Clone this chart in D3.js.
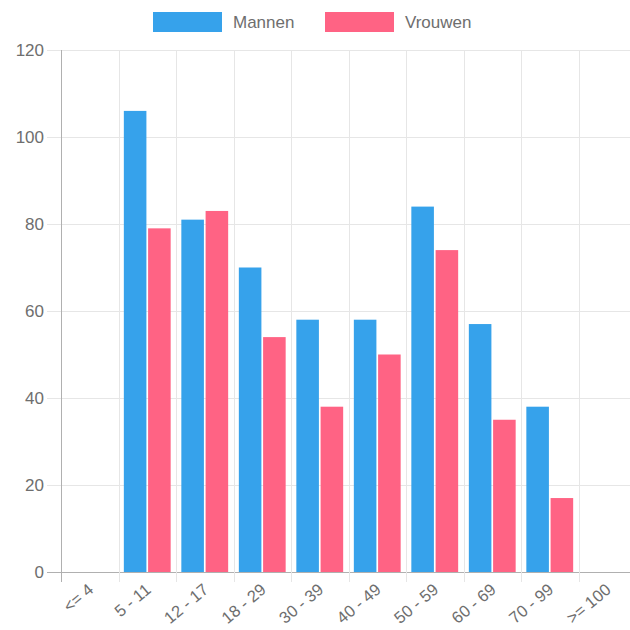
<!DOCTYPE html>
<html>
<head>
<meta charset="utf-8">
<script src="https://cdn.jsdelivr.net/npm/d3@7"></script>
<style>
  body { margin: 0; background: #fff; }
  svg { display: block; font-family: "Liberation Sans", Arial, sans-serif; }
</style>
</head>
<body>
<svg id="chart" width="630" height="630"></svg>
<script>
const categories = ["<= 4", "5 - 11", "12 - 17", "18 - 29", "30 - 39", "40 - 49", "50 - 59", "60 - 69", "70 - 99", ">= 100"];
const mannen = [0, 106, 81, 70, 58, 58, 84, 57, 38, 0];
const vrouwen = [0, 79, 83, 54, 38, 50, 74, 35, 17, 0];
const yTicks = [0, 20, 40, 60, 80, 100, 120];

const series = [
  {name: "Mannen", values: mannen, color: "#36a2eb"},
  {name: "Vrouwen", values: vrouwen, color: "#ff6384"}
];

const width = 630, height = 630;
const margin = {top: 50, right: -6, bottom: 58, left: 61};

const svg = d3.select("#chart");

const x = d3.scaleBand()
  .domain(categories)
  .range([margin.left, width - margin.right]);

const x1 = d3.scaleBand()
  .domain(series.map(s => s.name))
  .range([0, x.bandwidth()])
  .paddingOuter(0.22)
  .paddingInner(0.07);

const y = d3.scaleLinear()
  .domain([0, 120])
  .range([height - margin.bottom, margin.top]);

// grid
const grid = svg.append("g");
grid.selectAll("line.h")
  .data(yTicks)
  .enter().append("line")
  .attr("x1", margin.left - 14)
  .attr("x2", width)
  .attr("y1", d => y(d) + 0.5)
  .attr("y2", d => y(d) + 0.5)
  .attr("stroke", d => d === 0 ? "#b0b0b0" : "#e6e6e6");

grid.selectAll("line.v")
  .data(categories)
  .enter().append("line")
  .attr("x1", d => Math.round(x(d)) + 0.5)
  .attr("x2", d => Math.round(x(d)) + 0.5)
  .attr("y1", margin.top)
  .attr("y2", height - margin.bottom + 10)
  .attr("stroke", (d, i) => i === 0 ? "#b0b0b0" : "#e6e6e6");

// bars
series.forEach(s => {
  svg.append("g")
    .selectAll("rect")
    .data(s.values)
    .enter().append("rect")
    .attr("x", (d, i) => x(categories[i]) + x1(s.name))
    .attr("width", x1.bandwidth())
    .attr("y", d => y(d))
    .attr("height", d => y(0) - y(d))
    .attr("fill", s.color);
});

// y labels
svg.append("g")
  .selectAll("text")
  .data(yTicks)
  .enter().append("text")
  .attr("x", margin.left - 17)
  .attr("y", d => y(d))
  .attr("dy", "0.35em")
  .attr("text-anchor", "end")
  .attr("font-size", 17)
  .attr("fill", "#6e6e6e")
  .text(d => d);

// x labels
svg.append("g")
  .selectAll("text")
  .data(categories)
  .enter().append("text")
  .attr("transform", d => `translate(${x(d) + x.bandwidth() / 2 + 1},${height - margin.bottom + 15}) rotate(-40)`)
  .attr("text-anchor", "end")
  .attr("dy", "0.35em")
  .attr("font-size", 16.5)
  .attr("fill", "#6e6e6e")
  .text(d => d);

// legend
const legend = svg.append("g");
const legendX = [153, 325];
series.forEach((s, i) => {
  legend.append("rect")
    .attr("x", legendX[i])
    .attr("y", 12)
    .attr("width", 69)
    .attr("height", 20)
    .attr("fill", s.color);
  legend.append("text")
    .attr("x", legendX[i] + 80)
    .attr("y", 22)
    .attr("dy", "0.35em")
    .attr("font-size", 17)
    .attr("fill", "#6e6e6e")
    .text(s.name);
});
</script>
</body>
</html>
